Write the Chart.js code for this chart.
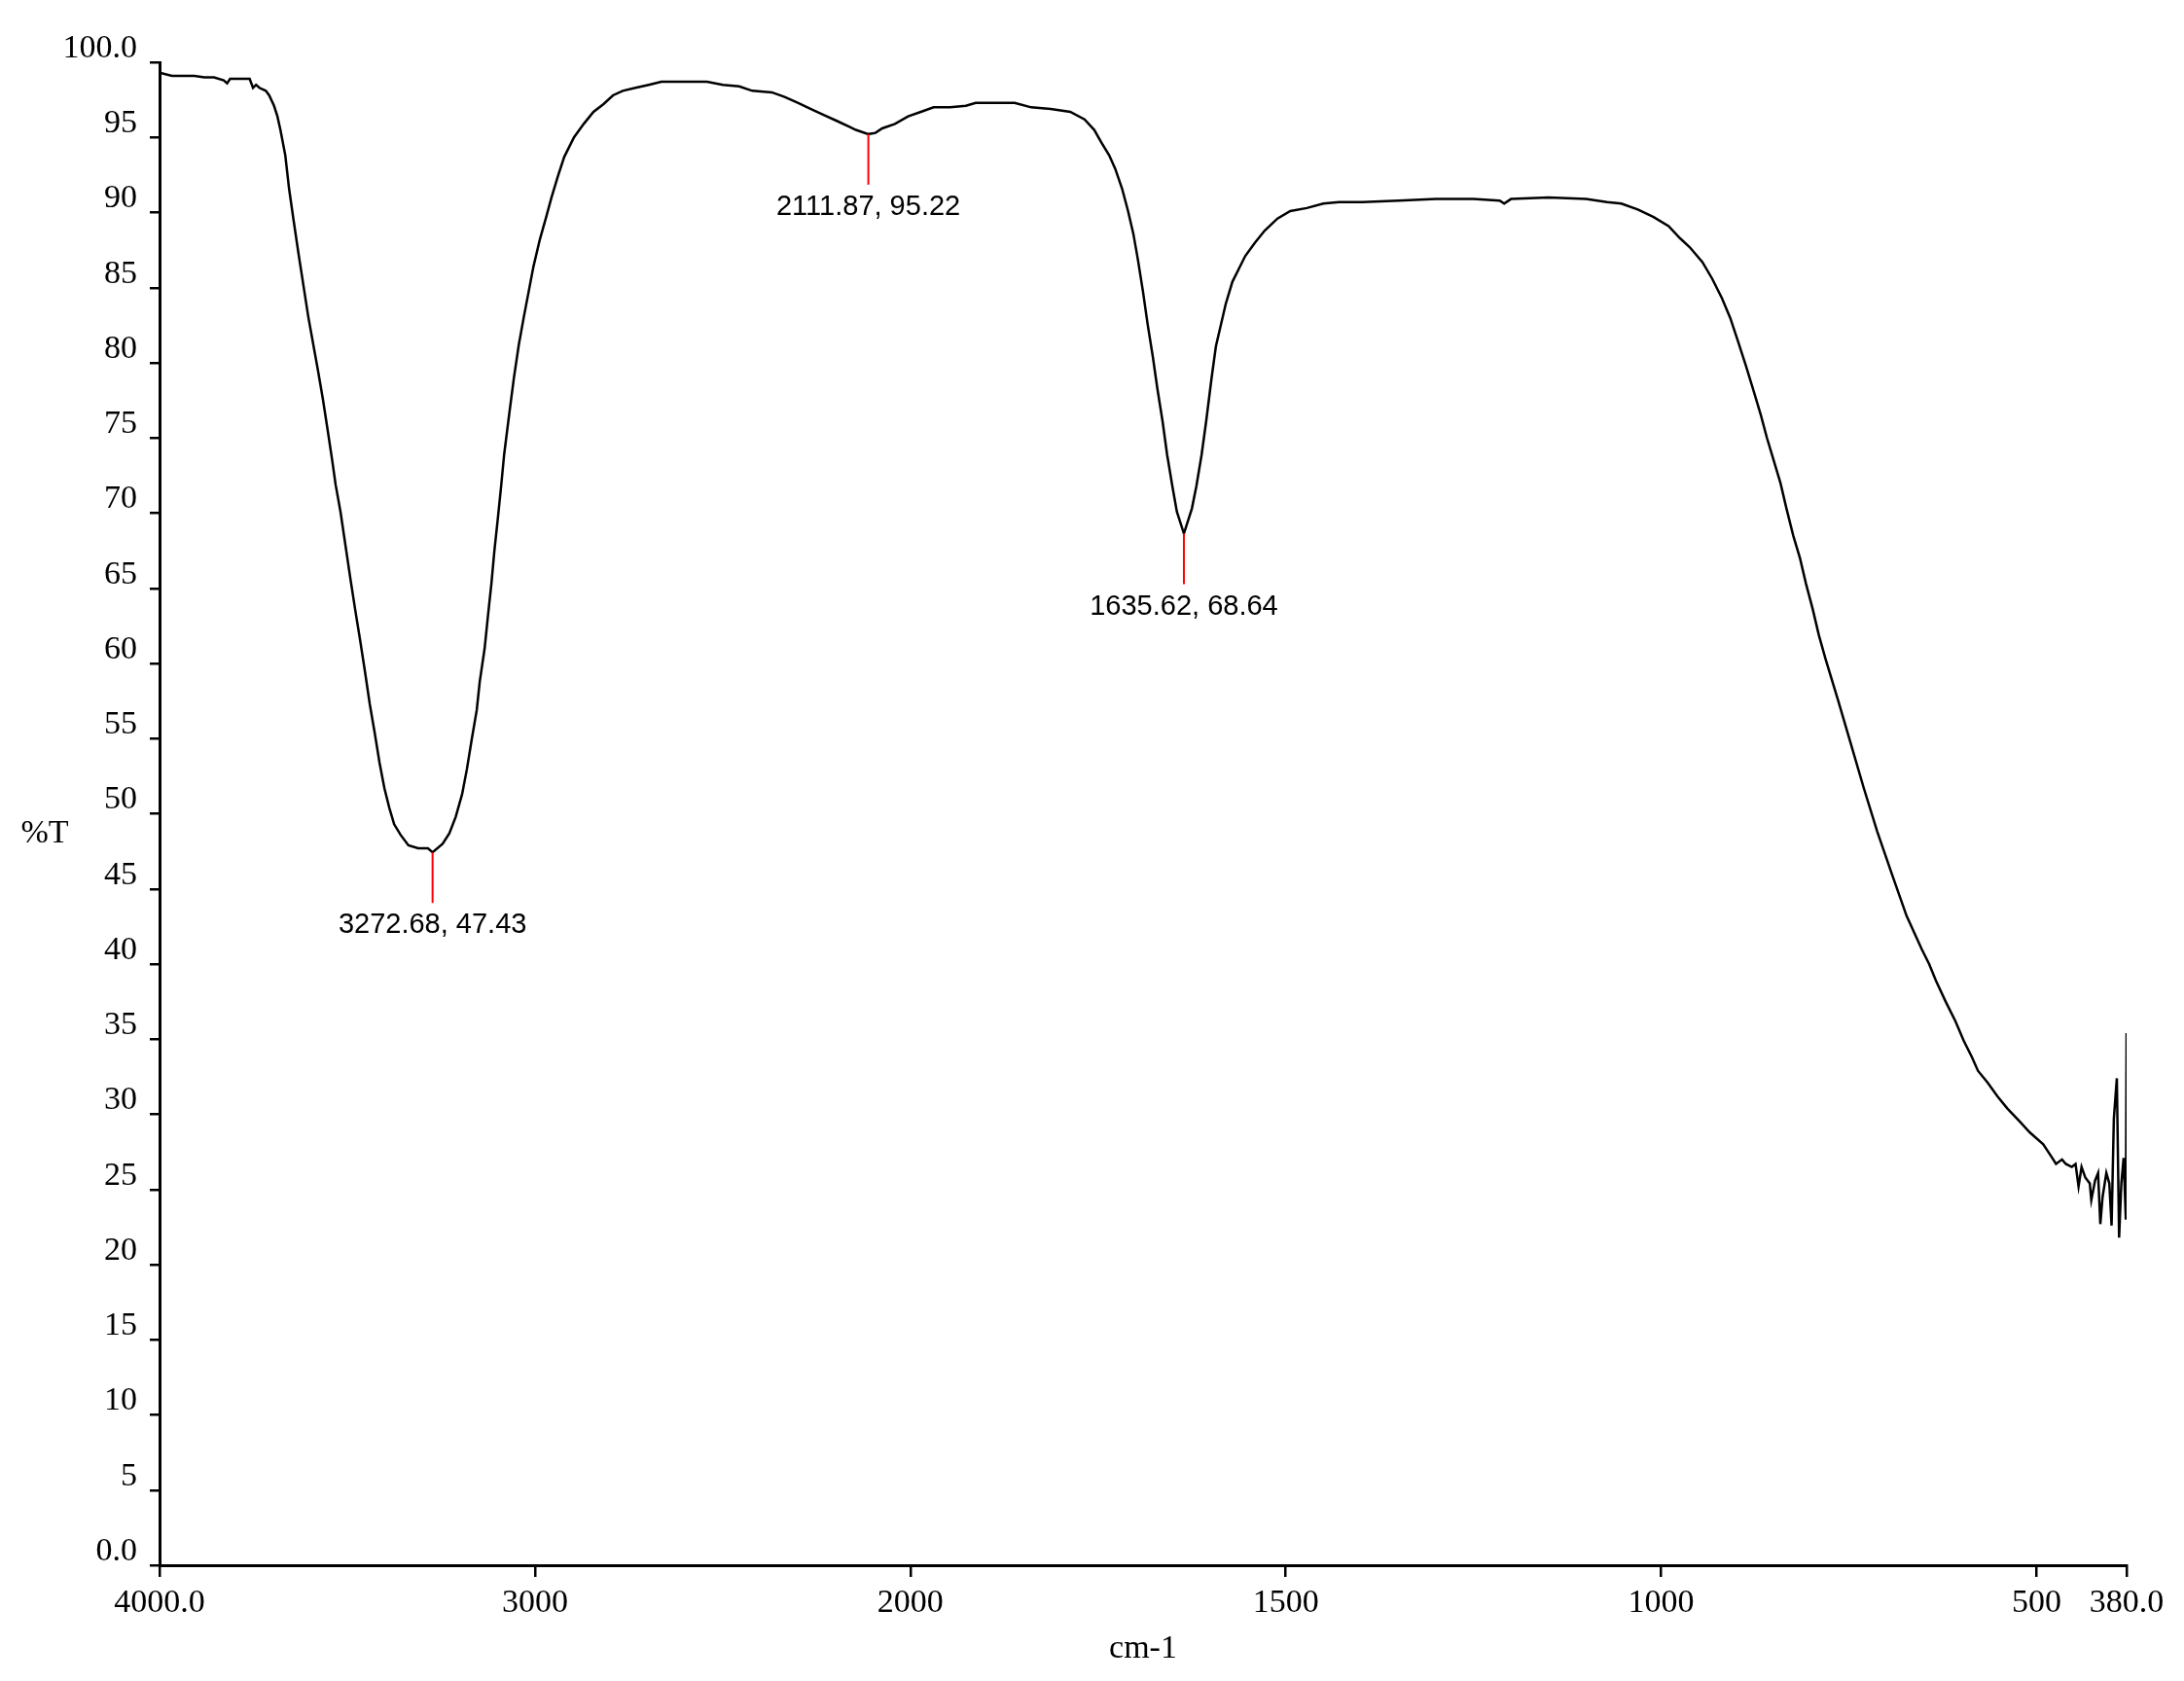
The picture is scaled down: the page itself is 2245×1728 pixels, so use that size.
<!DOCTYPE html>
<html>
<head>
<meta charset="utf-8">
<script src="https://cdn.jsdelivr.net/npm/chart.js@4/dist/chart.umd.min.js"></script>
<style>
  body { margin: 0; background: #fff; }
  canvas { display: block; }
</style>
</head>
<body>
<canvas id="irChart" width="2245" height="1728"></canvas>
<script>
// spectrum (cm-1, %T)
const waveNumbers = [
  4000, 3967, 3941, 3907, 3881, 3855, 3829, 3820, 3812, 3769, 3760, 3751, 3743, 3734, 3717, 3708,
  3695, 3686, 3678, 3665, 3655, 3643, 3630, 3617, 3604, 3591, 3578, 3565, 3552, 3540, 3531, 3518,
  3505, 3492, 3479, 3466, 3453, 3440, 3427, 3414, 3401, 3388, 3375, 3358, 3337, 3311, 3285, 3272.68,
  3246, 3228, 3211, 3194, 3181, 3168, 3155, 3147, 3134, 3125, 3116, 3108, 3099, 3090, 3082, 3069,
  3056, 3043, 3030, 3017, 3004, 2987, 2969, 2956, 2939, 2922, 2896, 2870, 2844, 2818, 2792, 2766,
  2732, 2697, 2663, 2602, 2542, 2499, 2456, 2421, 2369, 2335, 2300, 2266, 2231, 2196, 2162, 2145,
  2111.87, 2093, 2075, 2041, 2006, 1986, 1969, 1947, 1926, 1913, 1882, 1861, 1839, 1813, 1787, 1768,
  1755, 1746, 1735, 1727, 1718, 1710, 1703, 1697, 1690, 1684, 1677, 1671, 1664, 1658, 1651, 1645,
  1635.62, 1625, 1619, 1612, 1606, 1599, 1593, 1586, 1580, 1571, 1563, 1554, 1541, 1528, 1511, 1494,
  1472, 1450, 1429, 1398, 1350, 1300, 1250, 1215, 1209, 1200, 1150, 1100, 1072, 1053, 1031, 1010,
  990, 975, 962, 945, 932, 919, 908, 898, 887, 876, 867, 859, 850, 841, 833, 824,
  815, 807, 798, 790, 781, 764, 747, 730, 712, 692, 673, 653, 643, 634, 621, 608,
  597, 586, 578, 565, 552, 539, 522, 509, 491, 479, 474, 466, 461, 453, 448, 444,
  440, 435, 429, 427, 422, 418, 415, 412, 407, 403, 400, 397, 393, 390, 387, 384,
  381, 380, 380
];
const transmittance = [
  99.3, 99.1, 99.1, 99.1, 99.0, 99.0, 98.8, 98.6, 98.9, 98.9, 98.9, 98.3, 98.5, 98.3, 98.1, 97.8,
  97.1, 96.4, 95.5, 93.8, 91.6, 89.5, 87.3, 85.2, 83.1, 81.3, 79.5, 77.6, 75.5, 73.5, 71.9, 70.1,
  67.9, 65.7, 63.6, 61.6, 59.5, 57.3, 55.4, 53.4, 51.7, 50.4, 49.3, 48.6, 47.9, 47.7, 47.7, 47.43,
  48.0, 48.7, 49.8, 51.3, 53.0, 55.0, 56.9, 58.8, 61.0, 63.2, 65.3, 67.5, 69.6, 71.8, 73.9, 76.5,
  79.0, 81.2, 83.0, 84.7, 86.4, 88.2, 89.8, 91.0, 92.4, 93.7, 95.0, 95.9, 96.7, 97.2, 97.8, 98.1,
  98.3, 98.5, 98.7, 98.7, 98.7, 98.5, 98.4, 98.1, 98.0, 97.7, 97.3, 96.9, 96.5, 96.1, 95.7, 95.5,
  95.22, 95.3, 95.6, 95.9, 96.4, 96.7, 97.0, 97.0, 97.1, 97.3, 97.3, 97.3, 97.0, 96.9, 96.7, 96.2,
  95.5, 94.7, 93.8, 92.9, 91.6, 90.1, 88.6, 86.9, 84.7, 82.6, 80.4, 78.3, 76.1, 73.9, 71.8, 70.1,
  68.64, 70.3, 71.8, 73.9, 76.1, 78.9, 81.1, 82.6, 83.9, 85.4, 86.2, 87.1, 88.0, 88.8, 89.6, 90.1,
  90.3, 90.6, 90.7, 90.7, 90.8, 90.9, 90.9, 90.8, 90.6, 90.9, 91.0, 90.9, 90.7, 90.6, 90.2, 89.7,
  89.1, 88.3, 87.7, 86.7, 85.6, 84.3, 83.0, 81.5, 79.8, 78.0, 76.5, 75.0, 73.5, 72.0, 70.3, 68.5,
  67.0, 65.3, 63.6, 61.9, 60.3, 57.5, 54.6, 51.7, 48.8, 45.9, 43.2, 41.0, 40.0, 38.9, 37.5, 36.2,
  34.9, 33.8, 32.9, 32.1, 31.2, 30.4, 29.5, 28.8, 28.0, 27.1, 26.7, 27.0, 26.7, 26.5, 26.7, 25.2,
  26.5, 25.8, 25.4, 24.3, 25.6, 26.1, 22.7, 24.5, 26.1, 25.4, 22.6, 29.7, 32.4, 21.8, 25.4, 27.1,
  23.0, 35.4, 25.4
];

// labelled peaks
const peakWaves = [3272.68, 2111.87, 1635.62];
const peakValues = [47.43, 95.22, 68.64];

// x axis ticks (scale changes at 2000 cm-1)
const xTickWaves = [4000, 3000, 2000, 1500, 1000, 500, 380];
const xTickLabels = ['4000.0', '3000', '2000', '1500', '1000', '500', '380.0'];

// above 2000 cm-1 the axis is compressed by half
function toAxis(w) {
    return w >= 2000 ? (4000 - w) / 2 : 1000 + (2000 - w);
}

const points = waveNumbers.map((w, i) => ({ x: toAxis(w), y: transmittance[i] }));

const peakMarks = {
    id: 'peakMarks',
    afterDatasetsDraw(chart) {
        const ctx = chart.ctx;
        const xs = chart.scales.x;
        const ys = chart.scales.y;
        ctx.save();
        peakWaves.forEach((w, i) => {
            const px = xs.getPixelForValue(toAxis(w));
            const py = ys.getPixelForValue(peakValues[i]);
            ctx.strokeStyle = '#ff0000';
            ctx.lineWidth = 2;
            ctx.beginPath();
            ctx.moveTo(px, py);
            ctx.lineTo(px, py + 52);
            ctx.stroke();
            ctx.fillStyle = '#000';
            ctx.font = '29px "Liberation Sans"';
            ctx.textAlign = 'center';
            ctx.textBaseline = 'alphabetic';
            ctx.fillText(w.toFixed(2) + ', ' + peakValues[i].toFixed(2), px, py + 52 + 31);
        });
        // y axis title, written upright
        ctx.font = '34px "Liberation Serif"';
        ctx.fillText('%T', 46, 866);
        ctx.restore();
    }
};

new Chart(document.getElementById('irChart'), {
    type: 'scatter',
    data: {
        datasets: [{
            data: points,
            showLine: true,
            borderColor: '#000',
            borderWidth: 2.5,
            pointRadius: 0,
            tension: 0
        }]
    },
    options: {
        responsive: false,
        devicePixelRatio: 1,
        animation: false,
        layout: { padding: { top: 64, right: 59, left: 0, bottom: 0 } },
        plugins: {
            legend: { display: false },
            tooltip: { enabled: false }
        },
        scales: {
            x: {
                type: 'linear',
                min: 0,
                max: toAxis(380),
                afterBuildTicks(scale) {
                    scale.ticks = xTickWaves.map(w => ({ value: toAxis(w) }));
                },
                afterFit(scale) { scale.height = 119; },
                grid: { drawOnChartArea: false, drawTicks: true, tickLength: 12, color: '#000', lineWidth: 2.5 },
                border: { display: true, color: '#000', width: 3 },
                ticks: {
                    autoSkip: false,
                    maxRotation: 0,
                    padding: 7,
                    color: '#000',
                    font: { family: 'Liberation Serif', size: 34 },
                    callback(value) {
                        const i = xTickWaves.findIndex(w => Math.abs(toAxis(w) - value) < 0.01);
                        return i >= 0 ? xTickLabels[i] : '';
                    }
                },
                title: {
                    display: true,
                    text: 'cm-1',
                    color: '#000',
                    font: { family: 'Liberation Serif', size: 34 },
                    padding: { top: 0, bottom: 13 }
                }
            },
            y: {
                min: 0,
                max: 100,
                afterFit(scale) { scale.width = 164; },
                grid: { drawOnChartArea: false, drawTicks: true, tickLength: 10, color: '#000', lineWidth: 2.5 },
                border: { display: true, color: '#000', width: 3 },
                ticks: {
                    stepSize: 5,
                    padding: 13,
                    labelOffset: -14,
                    color: '#000',
                    font: { family: 'Liberation Serif', size: 34 },
                    callback(value) {
                        return (value === 0 || value === 100) ? value.toFixed(1) : String(value);
                    }
                }
            }
        }
    },
    plugins: [peakMarks]
});
</script>
</body>
</html>
